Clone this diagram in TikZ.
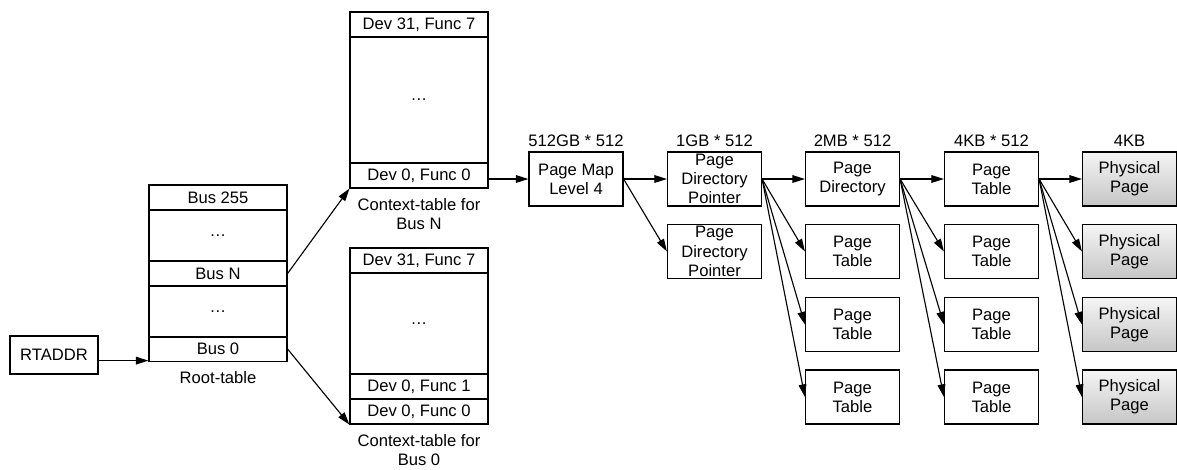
\documentclass[tikz,border=0pt]{standalone}
\usepackage{fontspec}
\setmainfont{Liberation Sans}
\usetikzlibrary{arrows.meta}

\begin{document}
\begin{tikzpicture}[x=0.025cm,y=-0.025cm,
  font=\fontsize{11.8}{13.7}\selectfont, line width=0.8pt,
  row/.style={draw,minimum width=3.45cm,minimum height=0.625cm,inner sep=0pt,align=center},
  page/.style={draw,minimum width=2.35cm,minimum height=1.35cm,inner sep=0pt,align=center},
  phys/.style={page,top color=gray!8,bottom color=gray!45},
  head/.style={above,inner sep=3pt},
  arr/.style={-{Triangle[length=9pt,width=5.5pt]}}]
\useasboundingbox (0,0) rectangle (1177,469);

\node[draw,line width=2pt,minimum width=2.2cm,minimum height=0.95cm] (rtaddr) at (54,355) {RTADDR};

\node[row] (bus255) at (218,197.5) {Bus 255};
\node[row,minimum height=1.275cm] (rdotsa) at (218,235.5) {\dots};
\node[row] (busn) at (218,273.5) {Bus N};
\node[row,minimum height=1.275cm] (rdotsb) at (218,311.5) {\dots};
\node[row] (busz) at (218,349) {Bus 0};
\node[align=center] (rtlabel) at (218,378) {Root-table};

\node[row] (ctxntop) at (419,24.5) {Dev 31, Func 7};
\node[row,minimum height=3.15cm] (ctxndots) at (419,100) {\dots};
\node[row] (ctxnz) at (419,175.5) {Dev 0, Func 0};
\node[align=center] (ctxnlabel) at (419,214) {Context-table for\\Bus N};

\node[row] (ctxztop) at (419,260.5) {Dev 31, Func 7};
\node[row,minimum height=2.525cm] (ctxzdots) at (419,323.5) {\dots};
\node[row] (ctxzone) at (419,386.5) {Dev 0, Func 1};
\node[row] (ctxzz) at (419,411.5) {Dev 0, Func 0};
\node[align=center] (ctxzlabel) at (419,450) {Context-table for\\Bus 0};

\node[page] (pml4) at (576,179) {Page Map\\Level 4};
\node[page] (pdp1) at (714.5,179) {Page\\Directory\\Pointer};
\node[page] (pdp2) at (714.5,251.5) {Page\\Directory\\Pointer};
\node[page] (pd1) at (852.5,179) {Page\\Directory};
\foreach \r/\y in {2/251.5,3/324.5,4/397}
  \node[page] (pd\r) at (852.5,\y) {Page\\Table};
\foreach \r/\y in {1/179,2/251.5,3/324.5,4/397} {
  \node[page] (pt\r) at (991.5,\y) {Page\\Table};
  \node[phys] (pg\r) at (1129.5,\y) {Physical\\Page};
}

\node[head] (hpml4) at (pml4.north) {512GB * 512};
\node[head] (hpdp) at (pdp1.north) {1GB * 512};
\node[head] (hpd) at (pd1.north) {2MB * 512};
\node[head] (hpt) at (pt1.north) {4KB * 512};
\node[head] (hpg) at (pg1.north) {4KB};

\draw[arr] ([yshift=-4pt]rtaddr.east) -- ([yshift=-4pt]rtaddr.east -| busz.west);
\draw[arr] (busn.east) -- (ctxnz.south west);
\draw[arr] (busz.east) -- (ctxzz.south west);
\draw[arr] (ctxnz.east |- pml4.west) -- (pml4.west);
\draw[arr] (pml4.east) -- (pdp1.west);
\draw[arr] (pml4.east) -- (pdp2.west);
\foreach \r in {1,...,4} {
  \draw[arr] (pdp1.east) -- (pd\r.west);
  \draw[arr] (pd1.east) -- (pt\r.west);
  \draw[arr] (pt1.east) -- (pg\r.west);
}
\end{tikzpicture}
\end{document}
